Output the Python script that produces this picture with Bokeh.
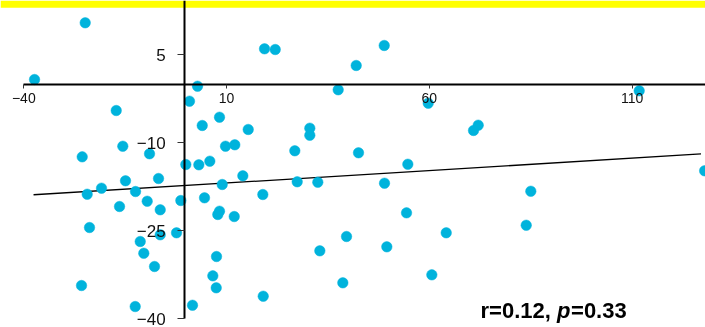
from bokeh.plotting import figure
from bokeh.models import FixedTicker, BoxAnnotation, Label, Range1d
from bokeh.embed import file_html
from bokeh.resources import INLINE

# data
x_vals = [-24.86, -37.36, 2.84, 0.86, -17.21, 19.36, 22.0, 48.88, 41.97, 37.53,
          59.73, 111.76, 8.26, 4.0, 15.34, 30.53, 30.53, -15.59, 9.74, 12.03,
          -25.6, -9.0, 26.83, 42.54, -0.05, 3.16, 5.87, 14.01, -14.92, -6.78,
          27.42, 32.5, -20.84, -24.37, -12.45, 8.93, 18.94, -9.57, -1.28, 4.56,
          -16.4, -6.36, 8.26, 7.84, 11.89, -23.8, -6.36, -2.34, -11.29, -10.41,
          -7.77, 7.52, 6.61, 7.45, -25.77, -12.53, 1.6, 19.04, 33.0, 39.58,
          38.67, 72.06, 70.9, 54.7, 48.95, 85.03, 54.38, 127.9, 64.17, 83.9,
          49.52, 60.62]
y_vals = [10.44, 0.78, -0.36, -2.91, -4.5, 6.01, 5.89, 6.58, 3.17, -0.97,
          -3.25, -1.14, -5.64, -7.05, -7.73, -7.51, -8.71, -10.58, -10.58, -10.34,
          -12.39, -11.87, -11.36, -11.7, -13.7, -13.75, -13.13, -15.62, -16.47, -16.08,
          -16.64, -16.71, -17.73, -18.76, -18.3, -17.1, -18.81, -19.95, -19.83, -19.37,
          -20.85, -21.41, -21.65, -22.21, -22.56, -24.43, -25.67, -25.33, -26.81, -28.81,
          -31.07, -29.37, -32.66, -34.7, -34.31, -37.89, -37.67, -36.13, -28.4, -25.96,
          -33.85, -7.0, -7.9, -13.65, -16.88, -18.25, -21.93, -14.77, -25.33, -24.04,
          -27.72, -32.49]
fit_x = [-37.6, 127.0]
fit_y = [-18.85, -11.9]
x_ticks = [-40, 10, 60, 110]
y_ticks = [5, -10, -25, -40]
stat_parts = ["r=0.12, ", "p", "=0.33"]

FONT = "Liberation Sans"

p = figure(width=705, height=327, output_backend="svg", toolbar_location=None,
           x_range=Range1d(-45.75, 128.11), y_range=Range1d(-41.46, 14.24),
           min_border=0,
           styles={"position": "fixed", "left": "0px", "top": "0px"})
p.outline_line_color = None
p.grid.visible = False
p.background_fill_color = "white"
p.border_fill_color = "white"

p.add_layout(BoxAnnotation(bottom=13.0, fill_color="#FFFF00", fill_alpha=1.0,
                           line_alpha=0, level="underlay"))

# axes crossing at origin
xa = p.xaxis[0]
xa.fixed_location = 0
xa.bounds = (-40, 130)
xa.ticker = FixedTicker(ticks=x_ticks)
xa.minor_tick_line_color = None
xa.major_tick_in = 0
xa.major_tick_out = 4
xa.axis_line_width = 2
xa.axis_line_color = "black"
xa.major_tick_line_color = "#333333"
xa.major_label_text_font = FONT
xa.major_label_text_font_size = "14px"
xa.major_label_text_color = "#111111"
xa.major_label_standoff = 5

ya = p.yaxis[0]
ya.fixed_location = -0.35
ya.bounds = (-40, 14.24)
ya.ticker = FixedTicker(ticks=y_ticks)
ya.minor_tick_line_color = None
ya.major_tick_in = 0
ya.major_tick_out = 7
ya.axis_line_width = 2
ya.axis_line_color = "black"
ya.major_tick_line_color = "#333333"
ya.major_label_text_font = FONT
ya.major_label_text_font_size = "17px"
ya.major_label_text_color = "#111111"
ya.major_label_standoff = 12

p.line(fit_x, fit_y, line_color="black", line_width=1.3)
p.scatter(x_vals, y_vals, size=10.5, fill_color="#00B3DC", line_color="#00B3DC",
          line_width=0.5)

lx, ly = 72.63, -38.57
offsets = [0, 76.5, 90.5]
styles = ["bold", "bold italic", "bold"]
for t, off, st in zip(stat_parts, offsets, styles):
    p.add_layout(Label(x=lx, y=ly, x_offset=off, text=t, text_font=FONT,
                       text_font_size="22px", text_font_style=st,
                       text_color="black", text_baseline="alphabetic",
                       text_align="left"))

open("out.html", "w").write(file_html(p, INLINE))
